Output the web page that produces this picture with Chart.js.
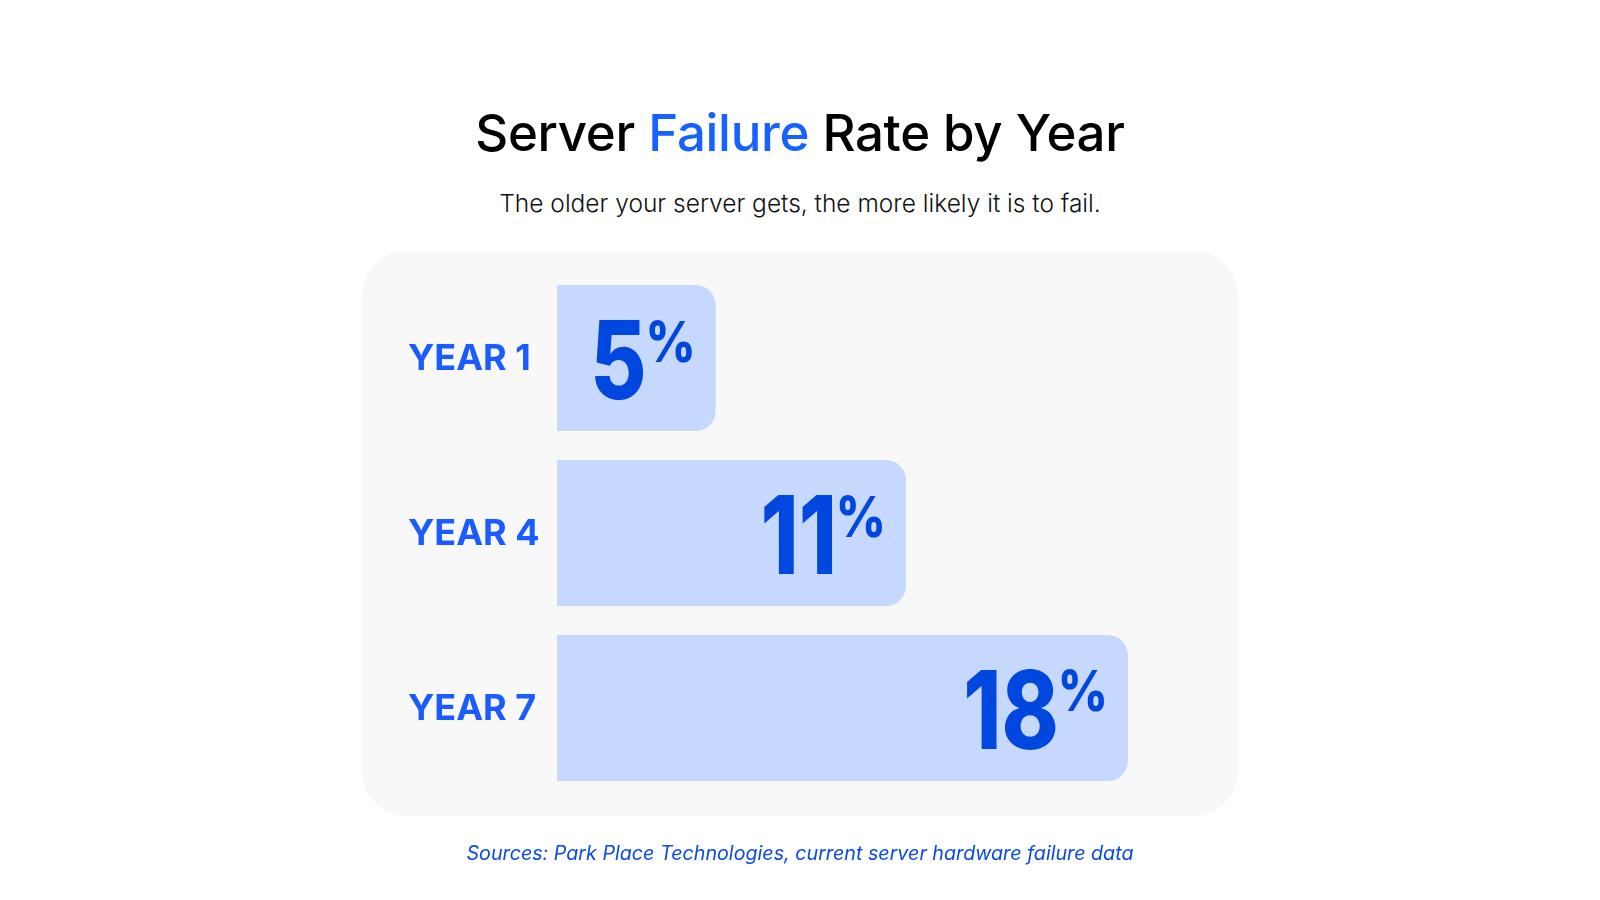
<!DOCTYPE html>
<html>
<head>
<meta charset="utf-8">
<script src="https://cdn.jsdelivr.net/npm/chart.js@4.4.1/dist/chart.umd.min.js"></script>
<style>
html,body{margin:0;padding:0;background:#fff;width:1600px;height:900px;overflow:hidden;font-family:Inter,"Noto Sans",sans-serif}
#title{position:absolute;left:0;width:1600px;top:100px;height:66px;line-height:66px;text-align:center;font-size:51px;font-weight:500;color:#000;letter-spacing:-0.3px}
#title span{color:#1662ff}
#subtitle{position:absolute;left:0;width:1600px;top:187px;height:32px;line-height:32px;text-align:center;font-size:24.5px;font-weight:300;color:#111}
#panel{position:absolute;left:362px;top:251px;width:876px;height:565px;background:#f8f8f8;border-radius:44px}
#source{position:absolute;left:0;width:1600px;top:839px;height:28px;line-height:28px;text-align:center;font-size:19.7px;font-style:italic;color:#0a4be6}
#c{position:absolute;left:0;top:0}
</style>
</head>
<body>
<div id="title">Server <span>Failure</span> Rate by Year</div>
<div id="subtitle">The older your server gets, the more likely it is to fail.</div>
<div id="panel"></div>
<canvas id="c" width="1600" height="900"></canvas>
<div id="source">Sources: Park Place Technologies, current server hardware failure data</div>
<script>
const categories = ['YEAR 1', 'YEAR 4', 'YEAR 7'];
const failureRates = [5, 11, 18];
const valueSuffix = '%';
const axisMin = 0;
const axisMax = 20;

const labelPlugin = {
  id: 'labelPlugin',
  afterDatasetsDraw(chart) {
    const ctx = chart.ctx;
    const meta = chart.getDatasetMeta(0);
    const yScale = chart.scales.y;
    ctx.save();
    // category labels
    ctx.fillStyle = '#1a5cff';
    ctx.font = '700 36px Inter, sans-serif';
    ctx.textAlign = 'left';
    ctx.textBaseline = 'alphabetic';
    categories.forEach((cat, i) => {
      const y = yScale.getPixelForValue(i);
      const m = ctx.measureText(cat);
      const capH = m.actualBoundingBoxAscent;
      ctx.fillText(cat, 408, y - 1.5 + capH / 2);
    });
    // value labels
    const digitScale = 0.8, pctScale = 0.87;
    meta.data.forEach((bar, i) => {
      const digits = String(failureRates[i]);
      const xEnd = bar.x;
      const y = bar.y;
      ctx.fillStyle = '#0047e0';
      ctx.font = '800 56px Inter, sans-serif';
      const pm = ctx.measureText(valueSuffix);
      const pctW = pm.width * pctScale;
      const pctAsc = pm.actualBoundingBoxAscent;
      ctx.font = '800 108px Inter, sans-serif';
      const dm = ctx.measureText(digits);
      const base = y + 41;
      const digitTop = base - dm.actualBoundingBoxAscent;
      ctx.textAlign = 'right';
      const pctRight = xEnd - 20;
      ctx.save();
      ctx.translate(pctRight - pctW + 1, base);
      ctx.scale(digitScale, 1);
      ctx.fillText(digits, 0, 0);
      ctx.restore();
      ctx.font = '800 56px Inter, sans-serif';
      ctx.save();
      ctx.translate(pctRight, digitTop + pctAsc);
      ctx.scale(pctScale, 1);
      ctx.fillText(valueSuffix, 0, 0);
      ctx.restore();
    });
    ctx.restore();
  }
};

const pxPerUnit = 31.72;
const chartLeft = 557;
const chartRight = chartLeft + (axisMax - axisMin) * pxPerUnit;

new Chart(document.getElementById('c'), {
  type: 'bar',
  data: {
    labels: categories,
    datasets: [{
      data: failureRates,
      backgroundColor: '#c6d8fd',
      borderRadius: 20,
      borderSkipped: 'start',
      barPercentage: 146 / 175,
      categoryPercentage: 1
    }]
  },
  options: {
    indexAxis: 'y',
    responsive: false,
    animation: false,
    events: [],
    layout: { padding: { left: chartLeft, right: 1600 - chartRight, top: 270.5, bottom: 104.5 } },
    scales: {
      x: { display: false, min: axisMin, max: axisMax },
      y: { display: false }
    },
    plugins: { legend: { display: false }, tooltip: { enabled: false } }
  },
  plugins: [labelPlugin]
});
</script>
</body>
</html>
